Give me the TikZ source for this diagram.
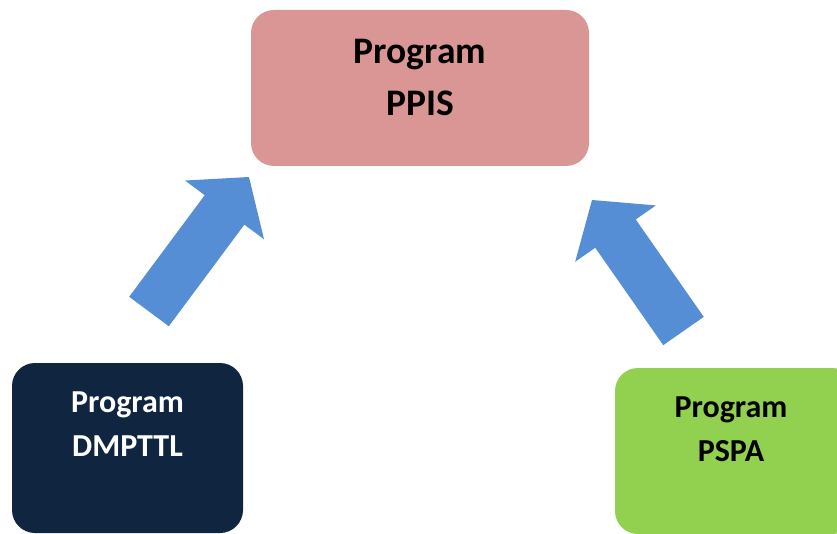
\documentclass[tikz,border=0pt]{standalone}
\usepackage{fontspec}
\setmainfont{Carlito}
\usetikzlibrary{math,calc}

\definecolor{ppispink}{HTML}{D99694}
\definecolor{dmpttlnavy}{HTML}{10253F}
\definecolor{pspagreen}{HTML}{92D050}
\definecolor{arrowblue}{HTML}{558ED5}

\begin{document}
\begin{tikzpicture}[x=1pt, y=-1pt]
	% Constants
	\tikzmath{
		\shaftwidth = 24.7; \headwidth = 49.2; \headlength = 41;
	}
	\tikzset{
		programbox/.style={rectangle, rounded corners=23pt, inner sep=0pt},
		programtext/.style={align=center, inner sep=0pt, font=\bfseries\fontsize{32}{44}\selectfont},
		blockarrow/.style={fill=arrowblue},
	}
	\useasboundingbox (0,0) rectangle (837,534);
	\clip (0,0) rectangle (837,534);

	\begin{scope}
		% Programs
		\node[programbox, fill=ppispink, minimum width=338pt, minimum height=156pt] (ppis) at (420,88) {};
		\node[programtext, font=\bfseries\fontsize{37.5}{52}\selectfont] (ppistext) at (ppis.center) [yshift=11pt] {Program\\PPIS};

		\node[programbox, fill=dmpttlnavy, minimum width=231pt, minimum height=170pt] (dmpttl) at (127.5,448) {};
		\node[programtext, text=white] (dmpttltext) at (127.5,424) {Program\\DMPTTL};

		\node[programbox, fill=pspagreen, minimum width=240pt, minimum height=166pt] (pspa) at (735,451) {};
		\node[programtext] (pspatext) at (731,429) {Program\\PSPA};

		% Block arrows towards PPIS
		\coordinate (dmpttl-tail) at (149,311.5);
		\coordinate (dmpttl-tip) at (249,177);
		\coordinate (pspa-tail) at (683.5,331);
		\coordinate (pspa-tip) at (592,200);
		\foreach \src in {dmpttl, pspa} {
			\coordinate (\src-base) at ($(\src-tip)!\headlength pt!(\src-tail)$);
			\fill[blockarrow] ($(\src-tail)!\shaftwidth pt!90:(\src-tip)$)
				-- ($(\src-base)!\shaftwidth pt!90:(\src-tip)$)
				-- ($(\src-base)!\headwidth pt!90:(\src-tip)$)
				-- (\src-tip)
				-- ($(\src-base)!\headwidth pt!-90:(\src-tip)$)
				-- ($(\src-base)!\shaftwidth pt!-90:(\src-tip)$)
				-- ($(\src-tail)!\shaftwidth pt!-90:(\src-tip)$) -- cycle;
		}
	\end{scope}
\end{tikzpicture}
\end{document}
